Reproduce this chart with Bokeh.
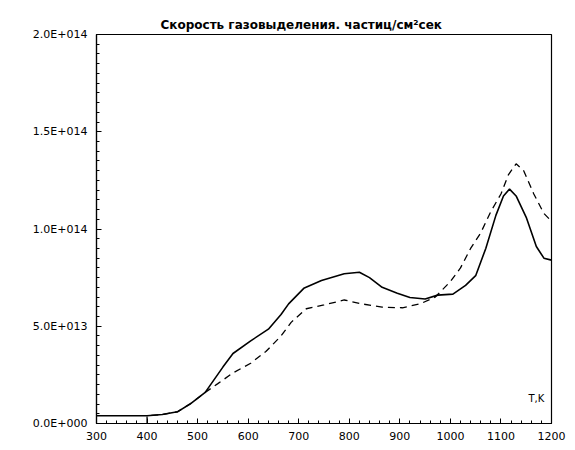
from bokeh.plotting import figure
from bokeh.models import Range1d, FixedTicker, Label
from bokeh.embed import file_html
from bokeh.resources import INLINE

# ---- data ----
solid_T = [300, 400, 430, 460, 485, 515, 550, 570, 605, 640, 665, 680, 710, 745, 790, 820,
           840, 865, 895, 920, 950, 975, 1005, 1030, 1050, 1070, 1090, 1105, 1117, 1130,
           1150, 1170, 1185, 1200]
solid_rate = [4.0e12, 4.0e12, 4.6e12, 6.0e12, 1.0e13, 1.6e13, 2.9e13, 3.6e13, 4.25e13, 4.85e13,
              5.6e13, 6.15e13, 6.95e13, 7.35e13, 7.7e13, 7.78e13, 7.5e13, 7.0e13, 6.7e13,
              6.48e13, 6.4e13, 6.6e13, 6.65e13, 7.1e13, 7.6e13, 9.0e13, 1.07e14, 1.17e14,
              1.205e14, 1.17e14, 1.06e14, 9.1e13, 8.5e13, 8.4e13]

dash_T = [400, 400, 430, 460, 485, 515, 540, 570, 605, 635, 665, 685, 715, 750, 790, 825, 865,
          905, 940, 970, 1000, 1020, 1040, 1060, 1080, 1100, 1115, 1130, 1145, 1165, 1185, 1200]
dash_rate = [0.0, 4.0e12, 4.6e12, 6.0e12, 1.0e13, 1.6e13, 2.05e13, 2.6e13, 3.1e13, 3.7e13,
             4.5e13, 5.2e13, 5.9e13, 6.1e13, 6.35e13, 6.15e13, 5.98e13, 5.95e13, 6.15e13,
             6.5e13, 7.3e13, 8.0e13, 9.0e13, 9.8e13, 1.09e14, 1.18e14, 1.28e14, 1.335e14,
             1.3e14, 1.18e14, 1.08e14, 1.04e14]

x_ticks = [300, 400, 500, 600, 700, 800, 900, 1000, 1100, 1200]
y_ticks = [0.0, 5.0e13, 1.0e14, 1.5e14, 2.0e14]
y_tick_labels = ["0.0E+000", "5.0E+013", "1.0E+014", "1.5E+014", "2.0E+014"]
title_text = "Скорость газовыделения. частиц/см\u00b2сек"
x_label_text = "T,K"

# ---- figure ----
p = figure(width=575, height=450, output_backend="svg", toolbar_location=None,
           x_range=Range1d(300, 1200), y_range=Range1d(0, 2.0e14),
           min_border_left=96, min_border_right=24, min_border_top=34, min_border_bottom=27)
p.background_fill_color = "white"
p.border_fill_color = "white"
p.outline_line_color = "black"
p.outline_line_width = 1.2
p.xgrid.visible = False
p.ygrid.visible = False

p.title.text = title_text
p.title.text_font = "DejaVu Sans"
p.title.text_font_size = "12px"
p.title.text_font_style = "bold"
p.title.text_color = "black"
p.title.align = "left"
p.title.offset = 64
p.title.standoff = 6

p.line(solid_T, solid_rate, line_color="black", line_width=1.6)
p.line(dash_T, dash_rate, line_color="black", line_width=1.3, line_dash="7 5")

minor_x = [v for v in range(300, 1201, 20)]
p.xaxis.ticker = FixedTicker(ticks=x_ticks, minor_ticks=minor_x)
minor_y = [i * 5.0e12 for i in range(0, 41)]
p.yaxis.ticker = FixedTicker(ticks=y_ticks, minor_ticks=minor_y)
p.yaxis.major_label_overrides = {t: s for t, s in zip(y_ticks, y_tick_labels)}

for ax in (p.xaxis[0], p.yaxis[0]):
    ax.axis_line_color = "black"
    ax.axis_line_width = 1.2
    ax.major_tick_in = 5
    ax.major_tick_out = 0
    ax.minor_tick_in = 3
    ax.minor_tick_out = 0
    ax.major_tick_line_color = "black"
    ax.minor_tick_line_color = "black"
    ax.major_label_text_font = "DejaVu Sans"
    ax.major_label_text_color = "black"

p.xaxis.major_label_text_font_size = "11px"
p.xaxis.major_label_standoff = 8
p.yaxis.major_label_text_font_size = "11px"
p.yaxis.major_label_standoff = 9

p.add_layout(Label(x=432, y=20, x_units="screen", y_units="screen", text=x_label_text,
                   text_font="DejaVu Sans", text_font_size="10px", text_color="black"))

open("out.html", "w").write(file_html(p, INLINE))
